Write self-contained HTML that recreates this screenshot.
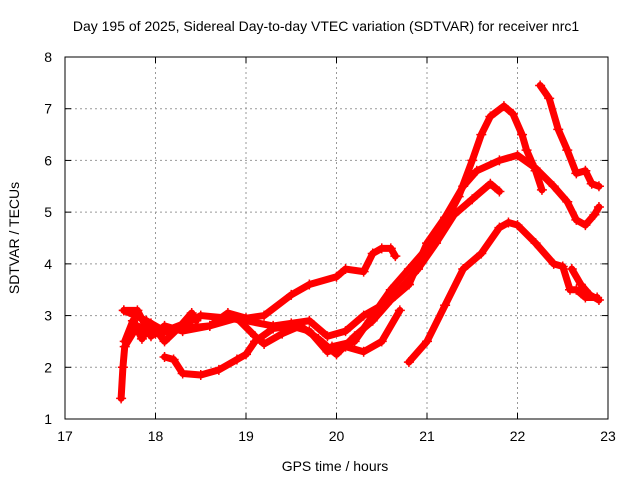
<!DOCTYPE html>
<html><head><meta charset="utf-8"><style>
body{margin:0;background:#fff}
svg{display:block;font-family:"Liberation Sans",sans-serif}
</style></head><body>
<svg id="chart" width="640" height="480">
<text x="326" y="31" font-size="14" text-anchor="middle">Day 195 of 2025, Sidereal Day-to-day VTEC variation (SDTVAR) for receiver nrc1</text>
<text x="335" y="471" font-size="14" text-anchor="middle">GPS time / hours</text>
<text transform="translate(19,238) rotate(-90)" font-size="14" text-anchor="middle">SDTVAR / TECUs</text>
<g id="grid"></g><g id="ticks"></g><g id="series"></g>
<rect x="65" y="57" width="543" height="362" fill="none" stroke="#000"/>
</svg>
<script>
const xTicks=[17,18,19,20,21,22,23];
const yTicks=[1,2,3,4,5,6,7,8];
const track1=[[19.95,2.4],[20.2,2.5],[20.4,3.0],[20.6,3.5],[20.8,3.9],[21.0,4.3],[21.2,4.8],[21.35,5.3],[21.5,6.0],[21.6,6.5],[21.7,6.85],[21.85,7.05],[21.95,6.9],[22.05,6.5],[22.1,6.2],[22.2,5.8],[22.27,5.43]];
const track2=[[20.8,3.6],[21.0,4.4],[21.2,4.9],[21.4,5.5],[21.55,5.8],[21.8,6.0],[22.0,6.1],[22.2,5.85],[22.4,5.5],[22.55,5.2],[22.65,4.85],[22.75,4.75],[22.85,4.95],[22.9,5.1]];
const track3=[[20.9,3.9],[21.1,4.4],[21.3,4.95],[21.5,5.25],[21.7,5.55],[21.8,5.4]];
const track4=[[20.8,2.1],[21.0,2.5],[21.2,3.2],[21.4,3.9],[21.6,4.2],[21.8,4.7],[21.9,4.8],[22.0,4.75],[22.2,4.4],[22.4,4.0],[22.5,3.95],[22.58,3.5],[22.65,3.5],[22.75,3.35],[22.88,3.35]];
const track5=[[22.25,7.45],[22.35,7.2],[22.45,6.6],[22.55,6.2],[22.65,5.75],[22.75,5.8],[22.82,5.55],[22.9,5.5]];
const track6=[[22.6,3.9],[22.7,3.6],[22.8,3.4],[22.9,3.3]];
const track7=[[18.1,2.2],[18.2,2.15],[18.3,1.88],[18.5,1.85],[18.7,1.95],[18.9,2.15],[19.0,2.25],[19.1,2.5],[19.3,2.75],[19.5,2.8],[19.7,2.7],[19.9,2.3],[20.1,2.4],[20.3,2.3],[20.5,2.5],[20.7,3.1]];
const track8=[[17.62,1.4],[17.64,2.0],[17.66,2.4],[17.8,2.8],[18.0,2.65],[18.3,2.75],[18.6,2.8],[18.9,2.95],[19.1,2.6],[19.2,2.45],[19.4,2.65],[19.6,2.8],[19.8,2.55],[20.0,2.25],[20.2,2.6],[20.4,2.9],[20.6,3.3],[20.8,3.6]];
const track9=[[17.65,3.1],[17.9,2.9],[18.1,2.7],[18.4,2.9],[18.5,3.0],[18.8,2.95],[19.0,2.9],[19.3,2.8],[19.5,2.85],[19.7,2.9],[19.9,2.6],[20.1,2.7],[20.3,3.0],[20.5,3.2],[20.7,3.5],[20.9,3.9]];
const track10=[[17.65,3.1],[17.8,3.1],[17.95,2.6],[18.1,2.8],[18.3,2.7],[18.6,2.8],[18.8,3.05],[19.0,2.95],[19.2,3.0],[19.5,3.4],[19.7,3.6],[20.0,3.75],[20.1,3.9],[20.3,3.85],[20.4,4.2],[20.5,4.3],[20.6,4.3],[20.65,4.15]];
const track11=[[17.66,2.5],[17.75,2.9],[17.85,2.55],[17.95,2.85],[18.1,2.5],[18.25,2.75],[18.4,3.05],[18.45,2.9]];
const tracks=[track1,track2,track3,track4,track5,track6,track7,track8,track9,track10,track11];
const X=h=>65+(h-17)*543/6, Y=v=>419-(v-1)*362/7;
const NS="http://www.w3.org/2000/svg";
const grid=document.getElementById('grid'),ticks=document.getElementById('ticks'),ser=document.getElementById('series');
function mk(t,a,p){const e=document.createElementNS(NS,t);for(const k in a)e.setAttribute(k,a[k]);p.appendChild(e);return e;}
xTicks.forEach(t=>{const x=X(t);
 if(t>17&&t<23){const g=mk('line',{x1:x,x2:x,y1:57,y2:419,stroke:'#999','stroke-dasharray':'2,3'},grid);
 
 }
 mk('line',{x1:x,x2:x,y1:419,y2:413,stroke:'#000'},ticks);mk('line',{x1:x,x2:x,y1:57,y2:63,stroke:'#000'},ticks);
 const l=mk('text',{x:x,y:441,'font-size':14,'text-anchor':'middle'},ticks);l.textContent=t;
 
 });
yTicks.forEach(t=>{const y=Y(t);
 if(t>1&&t<8){const g=mk('line',{x1:65,x2:608,y1:y,y2:y,stroke:'#999','stroke-dasharray':'2,3'},grid);
 
 }
 mk('line',{x1:65,x2:71,y1:y,y2:y,stroke:'#000'},ticks);mk('line',{x1:608,x2:602,y1:y,y2:y,stroke:'#000'},ticks);
 const l=mk('text',{x:52,y:y+5,'font-size':14,'text-anchor':'end'},ticks);l.textContent=t;
 
 });
tracks.forEach((tr,i)=>{
 const pl=mk('polyline',{points:tr.map(p=>X(p[0])+','+Y(p[1])).join(' '),fill:'none',stroke:'#f00','stroke-width':7,'stroke-linejoin':'round','stroke-linecap':'round'},ser);
 
 
 tr.forEach(p=>{const x=X(p[0]),y=Y(p[1]);
  const m=mk('path',{d:`M${x-5},${y}h10M${x},${y-5}v10`,stroke:'#f00','stroke-width':1.5},ser);
  
  });
});
</script>
</body></html>
